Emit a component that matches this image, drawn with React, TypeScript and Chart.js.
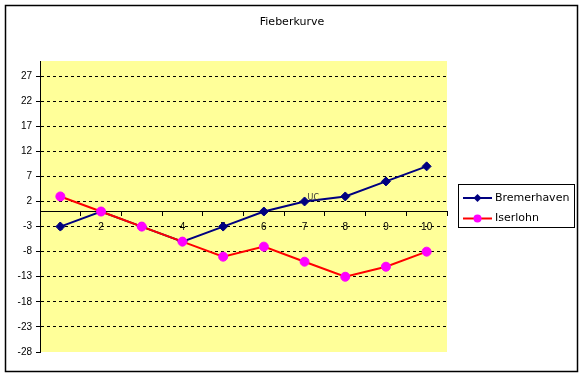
import React, { useEffect, useRef } from "react";
import { Chart, registerables } from "chart.js";

Chart.register(...registerables);

const TITLE = "Fieberkurve";
const CATEGORIES = ["1", "2", "3", "4", "5", "6", "7", "8", "9", "10"];
const BREMERHAVEN = [-3, 0, -3, -6, -3, 0, 2, 3, 6, 9];
const ISERLOHN = [3, 0, -3, -6, -9, -7, -10, -13, -11, -8];
const Y_TICKS = [-28, -23, -18, -13, -8, -3, 2, 7, 12, 17, 22, 27];
const Y_MIN = -28;
const Y_MAX = 30;
const POINT_NOTE = "UC";
const POINT_NOTE_INDEX = 6;

const SERIES = [
  { name: "Bremerhaven", data: BREMERHAVEN, line: "#000080", point: "#000080", style: "rectRot" },
  { name: "Iserlohn", data: ISERLOHN, line: "#FF0000", point: "#FF00FF", style: "circle" },
];

const TICK_FONT = { family: "Liberation Sans, Arial, sans-serif", size: 10 };

const decorPlugin = {
  id: "decor",
  beforeDraw(chart: any) {
    const { ctx, chartArea, width, height } = chart;
    ctx.save();
    ctx.fillStyle = "#FFFFFF";
    ctx.fillRect(0, 0, width, height);
    ctx.fillStyle = "#FFFF99";
    ctx.fillRect(chartArea.left, chartArea.top, chartArea.right - chartArea.left, chartArea.bottom - chartArea.top);
    ctx.strokeStyle = "#000000";
    ctx.lineWidth = 1.5;
    ctx.strokeRect(5.5, 5.5, 572, 366);
    ctx.restore();
  },
  afterDraw(chart: any) {
    const { ctx } = chart;
    ctx.save();
    // title
    ctx.fillStyle = "#000000";
    ctx.font = "11px 'DejaVu Sans', Verdana, sans-serif";
    ctx.textAlign = "center";
    ctx.textBaseline = "middle";
    ctx.fillText(TITLE, 292, 22);

    // note near point
    const meta = chart.getDatasetMeta(0);
    const pt = meta.data[POINT_NOTE_INDEX];
    if (pt) {
      ctx.font = "8px 'DejaVu Sans', sans-serif";
      ctx.fillStyle = "#333333";
      ctx.textAlign = "left";
      ctx.fillText(POINT_NOTE, pt.x + 3, pt.y - 4);
    }

    // legend
    const bx = 458.5, by = 184.5, bw = 116, bh = 43;
    ctx.strokeStyle = "#000000";
    ctx.lineWidth = 1;
    ctx.strokeRect(bx, by, bw, bh);
    ctx.font = "11px 'DejaVu Sans', Verdana, sans-serif";
    ctx.textAlign = "left";
    ctx.textBaseline = "middle";
    SERIES.forEach((s, i) => {
      const y = 198 + i * 20.5;
      ctx.strokeStyle = s.line;
      ctx.lineWidth = 2;
      ctx.beginPath();
      ctx.moveTo(463, y);
      ctx.lineTo(492, y);
      ctx.stroke();
      ctx.fillStyle = s.point;
      ctx.beginPath();
      if (s.style === "rectRot") {
        ctx.moveTo(477.5, y - 4);
        ctx.lineTo(481.5, y);
        ctx.lineTo(477.5, y + 4);
        ctx.lineTo(473.5, y);
        ctx.closePath();
      } else {
        ctx.arc(477.5, y, 4, 0, Math.PI * 2);
      }
      ctx.fill();
      ctx.fillStyle = "#000000";
      ctx.fillText(s.name, 495, y);
    });
    ctx.restore();
  },
};

export default function App() {
  const ref = useRef<HTMLCanvasElement>(null);
  useEffect(() => {
    document.body.style.margin = "0";
    const canvas = ref.current;
    if (!canvas) return;
    const chart = new Chart(canvas, {
      type: "line",
      data: {
        labels: CATEGORIES,
        datasets: SERIES.map((s, i) => ({
          label: s.name,
          data: s.data,
          borderColor: s.line,
          backgroundColor: s.point,
          pointBackgroundColor: s.point,
          pointBorderColor: s.point,
          pointStyle: s.style as any,
          pointRadius: 4.5,
          pointBorderWidth: 1,
          borderWidth: 2,
          tension: 0,
          fill: false,
          order: SERIES.length - i,
        })),
      },
      options: {
        responsive: false,
        animation: false,
        devicePixelRatio: 1,
        layout: { padding: { left: 0, top: 61, right: 137, bottom: 25 } },
        plugins: {
          legend: { display: false },
          title: { display: false },
          tooltip: { enabled: false },
        },
        scales: {
          x: {
            type: "category",
            position: { y: 0 } as any,
            offset: true,
            grid: {
              offset: true,
              drawOnChartArea: false,
              drawTicks: true,
              tickLength: 4,
              color: "#000000",
              tickColor: "#000000",
            },
            border: { display: true, color: "#000000", width: 1 },
            ticks: {
              autoSkip: false,
              maxRotation: 0,
              padding: 6,
              color: "#000000",
              font: TICK_FONT,
            },
          },
          y: {
            type: "linear",
            min: Y_MIN,
            max: Y_MAX,
            afterBuildTicks: (scale: any) => {
              scale.ticks = Y_TICKS.map((v) => ({ value: v }));
            },
            afterFit: (scale: any) => {
              scale.width = 40;
            },
            grid: {
              color: (ctx: any) => (ctx.tick && ctx.tick.value === Y_MIN ? "rgba(0,0,0,0)" : "#000000"),
              tickColor: "#000000",
              tickLength: 4,
              tickBorderDash: [],
              lineWidth: 1,
            } as any,
            border: { display: true, color: "#000000", width: 1, dash: [3, 3] },
            ticks: {
              padding: 4,
              color: "#000000",
              font: TICK_FONT,
            },
          },
        },
      },
      plugins: [decorPlugin],
    });
    return () => chart.destroy();
  }, []);
  return (
    <canvas
      ref={ref}
      width={584}
      height={377}
      style={{ display: "block", position: "absolute", left: 0, top: 0, width: 584, height: 377 }}
    />
  );
}
